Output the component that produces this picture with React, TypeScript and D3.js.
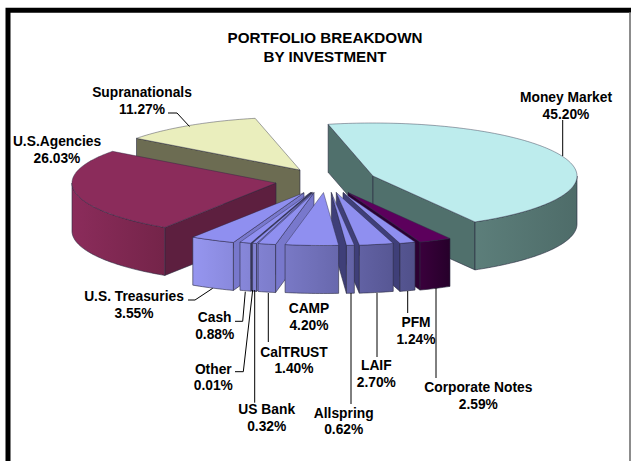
import React from "react";
import * as d3 from "d3";

const names = ["Money Market","Corporate Notes","PFM","LAIF","Allspring","CAMP","CalTRUST","US Bank","Other","Cash","U.S. Treasuries","U.S.Agencies","Supranationals"];
const values = [45.2,2.59,1.24,2.7,0.62,4.2,1.4,0.32,0.01,0.88,3.55,26.03,11.27];
const labels = ["45.20%","2.59%","1.24%","2.70%","0.62%","4.20%","1.40%","0.32%","0.01%","0.88%","3.55%","26.03%","11.27%"];

// layout: apex of each exploded slice, palette, paint order
const apexX = [373,348,343,336.3,331.3,323.5,314,312.4,311.6,310.6,304,276,300];
const apexY = [176,192.5,192.5,192.5,192.5,192.5,192.5,192.5,192.5,192.5,192.7,183,170];
const paintOrder = [12,0,11,1,2,3,4,10,9,8,7,6,5];
const RX = 204, RY = 53, DEPTH = 48;
const START = (-12.7 * Math.PI) / 180;

type Pal = { top: string; wallA0: string; wallA1: string; f: string };
const blue: Pal = { top: "#8f8ff0", wallA0: "#7878cc", wallA1: "#3f3f78", f: "url(#blueFront)" };
const palettes: Pal[] = [
  { top: "#bdeced", wallA0: "#50706c", wallA1: "#50706c", f: "url(#tealFront)" },
  { top: "#5c005c", wallA0: "#2c0032", wallA1: "#2c0032", f: "url(#plumFront)" },
  blue, blue, blue, blue, blue, blue, blue, blue, blue,
  { top: "#8b2c5b", wallA0: "#5d1f3f", wallA1: "#5d1f3f", f: "url(#wineFront)" },
  { top: "#eaeebd", wallA0: "#6c6c52", wallA1: "#6c6c52", f: "#6c6c52" },
];

type Lab = { i: number; x: number; y: number; leader?: [number, number][] };
const labelSpots: Lab[] = [
  { i: 0, x: 566, y: 97, leader: [[562.7,120],[562.7,156]] },
  { i: 1, x: 478.3, y: 387.3, leader: [[436,288],[436,378]] },
  { i: 2, x: 416, y: 322.3, leader: [[407.7,291],[407.7,313]] },
  { i: 3, x: 376.3, y: 365, leader: [[377,293],[377,357]] },
  { i: 4, x: 343.7, y: 412.7, leader: [[351,293],[351,404]] },
  { i: 5, x: 309, y: 308 },
  { i: 6, x: 294, y: 351.7, leader: [[268.3,293],[268.3,342]] },
  { i: 7, x: 266.7, y: 409.3, leader: [[254.7,290],[254.7,402.7]] },
  { i: 8, x: 213.3, y: 368.7, leader: [[235,371.7],[243.3,371.7],[252.7,290]] },
  { i: 9, x: 214.7, y: 317, leader: [[235,321.3],[242.7,321.3],[245.3,291.7]] },
  { i: 10, x: 134, y: 296, leader: [[188,300],[195,300],[212.7,288.3]] },
  { i: 11, x: 57, y: 141 },
  { i: 12, x: 142, y: 92, leader: [[168,113],[177,113],[189.5,126.5]] },
];

const font = "'Liberation Sans', Arial, sans-serif";
const FS = 13.8;
const TITLE_FS = 15.2;

export default function App() {
  const arcs = d3.pie<number>().sort(null).startAngle(START).endAngle(START + 2 * Math.PI)(values);
  const line = d3.line();
  const pathOf = (pts: [number, number][], close = true) => line(pts)! + (close ? "Z" : "");
  const toPts = (i: number, a: number, dz = 0): [number, number] => [
    apexX[i] + RX * Math.sin(a),
    apexY[i] - RY * Math.cos(a) + dz,
  ];
  const edge = (i: number, a0: number, a1: number, dz = 0) => {
    const n = Math.max(2, Math.ceil(Math.abs(a1 - a0) / 0.02));
    return d3.range(n + 1).map((k) => toPts(i, a0 + ((a1 - a0) * k) / n, dz));
  };
  const grad = (id: string, x1: number, x2: number, c1: string, c2: string) => (
    <linearGradient id={id} gradientUnits="userSpaceOnUse" x1={x1} x2={x2} y1={0} y2={0}>
      <stop offset="0" stopColor={c1} />
      <stop offset="1" stopColor={c2} />
    </linearGradient>
  );

  return (
    <svg width={631} height={461} style={{ position: "absolute", left: 0, top: 0, background: "#fff" }}>
      <defs>
        {grad("blueFront", 192, 415, "#9696f0", "#50508a")}
        {grad("tealFront", 476, 577, "#5c7e7a", "#4e6c69")}
        {grad("plumFront", 420, 450, "#3a003c", "#26002a")}
        {grad("wineFront", 72, 165, "#8b2c5b", "#742449")}
      </defs>
      <path d="M8,461V10.3H631" fill="none" stroke="#000" strokeWidth={5} />
      <line x1={630} x2={630} y1={12} y2={461} stroke="#666" strokeWidth={1.5} />
      <text x={325} y={43} textAnchor="middle" fontFamily={font} fontWeight="bold" fontSize={TITLE_FS}>PORTFOLIO BREAKDOWN</text>
      <text x={325} y={62} textAnchor="middle" fontFamily={font} fontWeight="bold" fontSize={TITLE_FS}>BY INVESTMENT</text>
      {paintOrder.map((i) => {
        const a0 = arcs[i].startAngle;
        const a1 = arcs[i].endAngle;
        const p = palettes[i];
        const apex: [number, number] = [apexX[i], apexY[i]];
        const apexLow: [number, number] = [apexX[i], apexY[i] + DEPTH];
        const stroke = "#2a2a40";
        const sw = 0.6;
        // only the part of the rim facing the viewer gets an outer wall
        const lo = Math.max(a0, Math.PI / 2);
        const hi = Math.min(a1, (3 * Math.PI) / 2);
        const rim = hi > lo ? [...edge(i, lo, hi), ...edge(i, hi, lo, DEPTH)] : null;
        return (
          <g key={i}>
            {Math.sin(a0) < 0 && <path d={pathOf([apex, toPts(i, a0), toPts(i, a0, DEPTH), apexLow])} fill={p.wallA0} stroke={stroke} strokeWidth={sw} />}
            {Math.sin(a1) > 0 && <path d={pathOf([apex, toPts(i, a1), toPts(i, a1, DEPTH), apexLow])} fill={p.wallA1} stroke={stroke} strokeWidth={sw} />}
            {rim && <path d={pathOf(rim)} fill={p.f} stroke={stroke} strokeWidth={sw} />}
            <path d={pathOf([apex, ...edge(i, a0, a1)])} fill={p.top} stroke={stroke} strokeWidth={sw} strokeOpacity={0.7} />
          </g>
        );
      })}
      {labelSpots.map((l) => (
        <g key={l.i}>
          {l.leader && <path d={line(l.leader)!} fill="none" stroke="#000" strokeWidth={1} />}
          <text x={l.x} y={l.y + 4.8} textAnchor="middle" fontFamily={font} fontWeight="bold" fontSize={FS}>{names[l.i]}</text>
          <text x={l.x} y={l.y + 21.5} textAnchor="middle" fontFamily={font} fontWeight="bold" fontSize={FS}>{labels[l.i]}</text>
        </g>
      ))}
    </svg>
  );
}
